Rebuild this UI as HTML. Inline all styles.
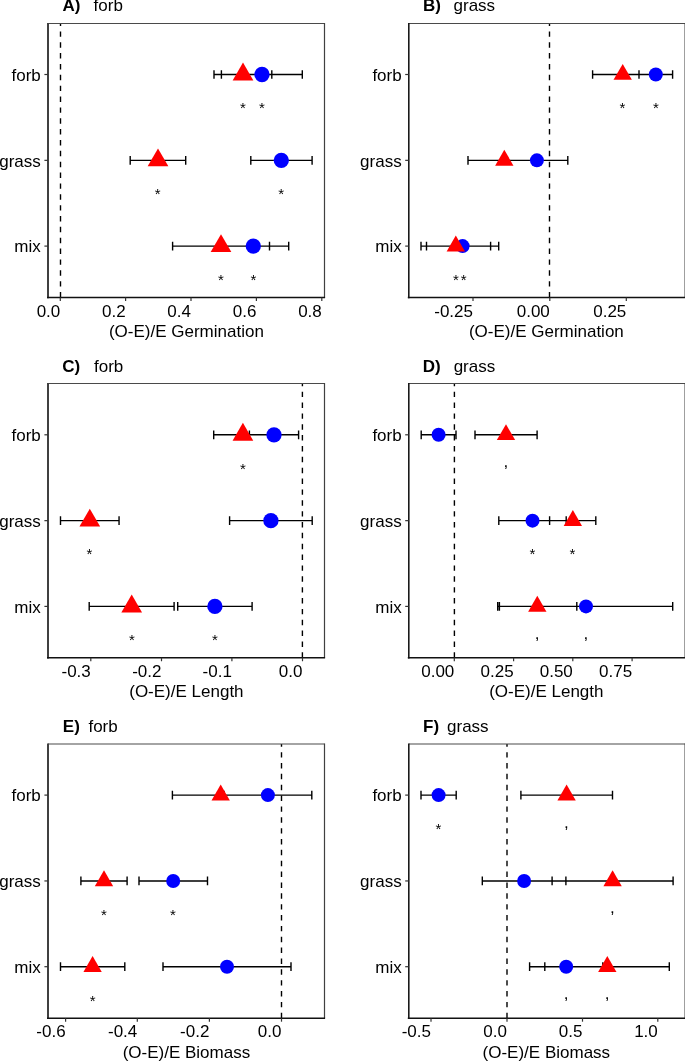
<!DOCTYPE html><html><head><meta charset="utf-8"><style>html,body{margin:0;padding:0;background:#fff;}svg{display:block;will-change:transform;}text{font-family:"Liberation Sans",sans-serif;}</style></head><body>
<svg width="685" height="1061" viewBox="0 0 685 1061">
<rect x="0" y="0" width="685" height="1061" fill="#fff"/>
<text x="62.4" y="11.4" font-size="17" font-weight="bold">A)</text>
<text x="93.55" y="11.4" font-size="17">forb</text>
<line x1="60.5" y1="297.45" x2="60.5" y2="23.5" stroke="#000" stroke-width="1.4" stroke-dasharray="5.43 5.43"/>
<path d="M214 74.5H302.3M221.4 70.15V78.85M302.3 70.15V78.85M214 70.15V78.85M271.8 70.15V78.85" stroke="#000" stroke-width="1.4" fill="none"/>
<path d="M130.2 160.35H185.7M250.8 160.35H312.1M250.8 156V164.7M312.1 156V164.7M130.2 156V164.7M185.7 156V164.7" stroke="#000" stroke-width="1.4" fill="none"/>
<path d="M172.6 246.1H288.7M217.9 241.75V250.45M288.7 241.75V250.45M172.6 241.75V250.45M269.5 241.75V250.45" stroke="#000" stroke-width="1.4" fill="none"/>
<circle cx="262" cy="74.5" r="7.65" fill="#0000ff"/>
<circle cx="281.3" cy="160.35" r="7.65" fill="#0000ff"/>
<circle cx="253.3" cy="246.1" r="7.65" fill="#0000ff"/>
<path d="M243 62.55L253.35 80.47L232.65 80.47Z" fill="#ff0000"/>
<path d="M158 148.4L168.35 166.32L147.65 166.32Z" fill="#ff0000"/>
<path d="M221 234.15L231.35 252.07L210.65 252.07Z" fill="#ff0000"/>
<text x="240" y="113.3" font-size="15">*</text>
<text x="259.1" y="113.3" font-size="15">*</text>
<text x="154.8" y="199.15" font-size="15">*</text>
<text x="278.3" y="199.15" font-size="15">*</text>
<text x="218" y="284.9" font-size="15">*</text>
<text x="250.4" y="284.9" font-size="15">*</text>
<path d="M48 23.5H324.5" stroke="#4a4a4a" stroke-width="1.15" fill="none"/>
<path d="M324.5 22.95V297.45" stroke="#404040" stroke-width="1.2" fill="none"/>
<path d="M48 22.95V298.15" stroke="#404040" stroke-width="2.0" fill="none"/>
<path d="M47 297.45H325.1" stroke="#111" stroke-width="1.4" fill="none"/>
<line x1="44.4" y1="74.5" x2="48" y2="74.5" stroke="#333" stroke-width="1.2"/>
<text x="40.8" y="80.7" font-size="17" text-anchor="end">forb</text>
<line x1="44.4" y1="160.35" x2="48" y2="160.35" stroke="#333" stroke-width="1.2"/>
<text x="40.8" y="166.55" font-size="17" text-anchor="end">grass</text>
<line x1="44.4" y1="246.1" x2="48" y2="246.1" stroke="#333" stroke-width="1.2"/>
<text x="40.8" y="252.3" font-size="17" text-anchor="end">mix</text>
<line x1="60.3" y1="297.45" x2="60.3" y2="300.95" stroke="#333" stroke-width="1.2"/>
<text x="60.3" y="316.85" font-size="17" text-anchor="end">0.0</text>
<line x1="125.6" y1="297.45" x2="125.6" y2="300.95" stroke="#333" stroke-width="1.2"/>
<text x="125.6" y="316.85" font-size="17" text-anchor="end">0.2</text>
<line x1="191" y1="297.45" x2="191" y2="300.95" stroke="#333" stroke-width="1.2"/>
<text x="191" y="316.85" font-size="17" text-anchor="end">0.4</text>
<line x1="256.4" y1="297.45" x2="256.4" y2="300.95" stroke="#333" stroke-width="1.2"/>
<text x="256.4" y="316.85" font-size="17" text-anchor="end">0.6</text>
<line x1="321.8" y1="297.45" x2="321.8" y2="300.95" stroke="#333" stroke-width="1.2"/>
<text x="321.8" y="316.85" font-size="17" text-anchor="end">0.8</text>
<text x="186.4" y="337" font-size="17" text-anchor="middle">(O-E)/E Germination</text>
<text x="422.9" y="11.4" font-size="17" font-weight="bold">B)</text>
<text x="453.55" y="11.4" font-size="17">grass</text>
<line x1="549.5" y1="297.45" x2="549.5" y2="23.5" stroke="#000" stroke-width="1.4" stroke-dasharray="5.43 5.43"/>
<path d="M592.6 74.5H672.6M639 70.15V78.85M672.6 70.15V78.85M592.6 70.15V78.85M652.8 70.15V78.85" stroke="#000" stroke-width="1.4" fill="none"/>
<path d="M468 160.35H567.8M506 156V164.7M567.8 156V164.7M468 156V164.7M540.6 156V164.7" stroke="#000" stroke-width="1.4" fill="none"/>
<path d="M421 246.1H498.7M426.5 241.75V250.45M498.7 241.75V250.45M421 241.75V250.45M490.6 241.75V250.45" stroke="#000" stroke-width="1.4" fill="none"/>
<circle cx="655.8" cy="74.5" r="7.0" fill="#0000ff"/>
<circle cx="536.9" cy="160.35" r="7.0" fill="#0000ff"/>
<circle cx="462.6" cy="246.1" r="7.0" fill="#0000ff"/>
<path d="M622.7 63.9L631.88 79.8L613.52 79.8Z" fill="#ff0000"/>
<path d="M504.3 149.75L513.48 165.65L495.12 165.65Z" fill="#ff0000"/>
<path d="M455.8 235.5L464.98 251.4L446.62 251.4Z" fill="#ff0000"/>
<text x="619.6" y="113.3" font-size="15">*</text>
<text x="653.1" y="113.3" font-size="15">*</text>
<text x="452.9" y="284.9" font-size="15">*</text>
<text x="460.8" y="284.9" font-size="15">*</text>
<path d="M408.8 23.5H685.1" stroke="#4a4a4a" stroke-width="1.15" fill="none"/>
<path d="M685.1 22.95V297.45" stroke="#404040" stroke-width="1.2" fill="none"/>
<path d="M408.8 22.95V298.15" stroke="#1a1a1a" stroke-width="1.6" fill="none"/>
<path d="M407.8 297.45H685.7" stroke="#111" stroke-width="1.4" fill="none"/>
<line x1="405.2" y1="74.5" x2="408.8" y2="74.5" stroke="#333" stroke-width="1.2"/>
<text x="401.7" y="80.7" font-size="17" text-anchor="end">forb</text>
<line x1="405.2" y1="160.35" x2="408.8" y2="160.35" stroke="#333" stroke-width="1.2"/>
<text x="401.7" y="166.55" font-size="17" text-anchor="end">grass</text>
<line x1="405.2" y1="246.1" x2="408.8" y2="246.1" stroke="#333" stroke-width="1.2"/>
<text x="401.7" y="252.3" font-size="17" text-anchor="end">mix</text>
<line x1="473" y1="297.45" x2="473" y2="300.95" stroke="#333" stroke-width="1.2"/>
<text x="473" y="316.85" font-size="17" text-anchor="end">-0.25</text>
<line x1="549.8" y1="297.45" x2="549.8" y2="300.95" stroke="#333" stroke-width="1.2"/>
<text x="549.8" y="316.85" font-size="17" text-anchor="end">0.00</text>
<line x1="626.3" y1="297.45" x2="626.3" y2="300.95" stroke="#333" stroke-width="1.2"/>
<text x="626.3" y="316.85" font-size="17" text-anchor="end">0.25</text>
<text x="546.35" y="337" font-size="17" text-anchor="middle">(O-E)/E Germination</text>
<text x="62.35" y="371.7" font-size="17" font-weight="bold">C)</text>
<text x="94" y="371.7" font-size="17">forb</text>
<line x1="302.4" y1="657.75" x2="302.4" y2="383.5" stroke="#000" stroke-width="1.4" stroke-dasharray="5.43 5.43"/>
<path d="M213.7 434.8H298.6M249.4 430.45V439.15M298.6 430.45V439.15M213.7 430.45V439.15M272.1 430.45V439.15" stroke="#000" stroke-width="1.4" fill="none"/>
<path d="M60.5 520.65H119.05M229.6 520.65H312.2M229.6 516.3V525M312.2 516.3V525M60.5 516.3V525M119.05 516.3V525" stroke="#000" stroke-width="1.4" fill="none"/>
<path d="M89.2 606.4H174.1M177.7 606.4H252.1M177.7 602.05V610.75M252.1 602.05V610.75M89.2 602.05V610.75M174.1 602.05V610.75" stroke="#000" stroke-width="1.4" fill="none"/>
<circle cx="274" cy="434.8" r="7.65" fill="#0000ff"/>
<circle cx="270.9" cy="520.65" r="7.65" fill="#0000ff"/>
<circle cx="214.9" cy="606.4" r="7.65" fill="#0000ff"/>
<path d="M242.9 422.85L253.25 440.78L232.55 440.78Z" fill="#ff0000"/>
<path d="M89.8 508.7L100.15 526.62L79.45 526.62Z" fill="#ff0000"/>
<path d="M131.7 594.45L142.05 612.38L121.35 612.38Z" fill="#ff0000"/>
<text x="240" y="473.6" font-size="15">*</text>
<text x="86.6" y="559.45" font-size="15">*</text>
<text x="128.9" y="645.2" font-size="15">*</text>
<text x="211.9" y="645.2" font-size="15">*</text>
<path d="M48 383.5H324.5" stroke="#4a4a4a" stroke-width="1.15" fill="none"/>
<path d="M324.5 382.95V657.75" stroke="#404040" stroke-width="1.2" fill="none"/>
<path d="M48 382.95V658.45" stroke="#404040" stroke-width="2.0" fill="none"/>
<path d="M47 657.75H325.1" stroke="#111" stroke-width="1.4" fill="none"/>
<line x1="44.4" y1="434.8" x2="48" y2="434.8" stroke="#333" stroke-width="1.2"/>
<text x="40.8" y="441" font-size="17" text-anchor="end">forb</text>
<line x1="44.4" y1="520.65" x2="48" y2="520.65" stroke="#333" stroke-width="1.2"/>
<text x="40.8" y="526.85" font-size="17" text-anchor="end">grass</text>
<line x1="44.4" y1="606.4" x2="48" y2="606.4" stroke="#333" stroke-width="1.2"/>
<text x="40.8" y="612.6" font-size="17" text-anchor="end">mix</text>
<line x1="90.8" y1="657.75" x2="90.8" y2="661.25" stroke="#333" stroke-width="1.2"/>
<text x="90.8" y="677.15" font-size="17" text-anchor="end">-0.3</text>
<line x1="161.5" y1="657.75" x2="161.5" y2="661.25" stroke="#333" stroke-width="1.2"/>
<text x="161.5" y="677.15" font-size="17" text-anchor="end">-0.2</text>
<line x1="231.9" y1="657.75" x2="231.9" y2="661.25" stroke="#333" stroke-width="1.2"/>
<text x="231.9" y="677.15" font-size="17" text-anchor="end">-0.1</text>
<line x1="302.5" y1="657.75" x2="302.5" y2="661.25" stroke="#333" stroke-width="1.2"/>
<text x="302.5" y="677.15" font-size="17" text-anchor="end">0.0</text>
<text x="186.4" y="697.3" font-size="17" text-anchor="middle">(O-E)/E Length</text>
<text x="422.8" y="371.7" font-size="17" font-weight="bold">D)</text>
<text x="453.65" y="371.7" font-size="17">grass</text>
<line x1="454.4" y1="657.75" x2="454.4" y2="383.5" stroke="#000" stroke-width="1.4" stroke-dasharray="5.43 5.43"/>
<path d="M421.2 434.8H456M475 434.8H537.1M421.2 430.45V439.15M456 430.45V439.15M475 430.45V439.15M537.1 430.45V439.15" stroke="#000" stroke-width="1.4" fill="none"/>
<path d="M498.8 520.65H595.8M498.8 516.3V525M566.2 516.3V525M549.6 516.3V525M595.8 516.3V525" stroke="#000" stroke-width="1.4" fill="none"/>
<path d="M497.7 606.4H672.7M499.4 602.05V610.75M672.7 602.05V610.75M497.7 602.05V610.75M576.8 602.05V610.75" stroke="#000" stroke-width="1.4" fill="none"/>
<circle cx="438.6" cy="434.8" r="7.0" fill="#0000ff"/>
<circle cx="532.5" cy="520.65" r="7.0" fill="#0000ff"/>
<circle cx="586" cy="606.4" r="7.0" fill="#0000ff"/>
<path d="M506 424.2L515.18 440.1L496.82 440.1Z" fill="#ff0000"/>
<path d="M572.85 510.05L582.03 525.95L563.67 525.95Z" fill="#ff0000"/>
<path d="M537.3 595.8L546.48 611.7L528.12 611.7Z" fill="#ff0000"/>
<text x="503.55" y="467.2" font-size="17">,</text>
<text x="529.5" y="559.45" font-size="15">*</text>
<text x="569.6" y="559.45" font-size="15">*</text>
<text x="534.85" y="638.8" font-size="17">,</text>
<text x="583.55" y="638.8" font-size="17">,</text>
<path d="M408.8 383.5H685.1" stroke="#4a4a4a" stroke-width="1.15" fill="none"/>
<path d="M685.1 382.95V657.75" stroke="#404040" stroke-width="1.2" fill="none"/>
<path d="M408.8 382.95V658.45" stroke="#1a1a1a" stroke-width="1.6" fill="none"/>
<path d="M407.8 657.75H685.7" stroke="#111" stroke-width="1.4" fill="none"/>
<line x1="405.2" y1="434.8" x2="408.8" y2="434.8" stroke="#333" stroke-width="1.2"/>
<text x="401.7" y="441" font-size="17" text-anchor="end">forb</text>
<line x1="405.2" y1="520.65" x2="408.8" y2="520.65" stroke="#333" stroke-width="1.2"/>
<text x="401.7" y="526.85" font-size="17" text-anchor="end">grass</text>
<line x1="405.2" y1="606.4" x2="408.8" y2="606.4" stroke="#333" stroke-width="1.2"/>
<text x="401.7" y="612.6" font-size="17" text-anchor="end">mix</text>
<line x1="454.3" y1="657.75" x2="454.3" y2="661.25" stroke="#333" stroke-width="1.2"/>
<text x="454.3" y="677.15" font-size="17" text-anchor="end">0.00</text>
<line x1="513.6" y1="657.75" x2="513.6" y2="661.25" stroke="#333" stroke-width="1.2"/>
<text x="513.6" y="677.15" font-size="17" text-anchor="end">0.25</text>
<line x1="572.8" y1="657.75" x2="572.8" y2="661.25" stroke="#333" stroke-width="1.2"/>
<text x="572.8" y="677.15" font-size="17" text-anchor="end">0.50</text>
<line x1="632.1" y1="657.75" x2="632.1" y2="661.25" stroke="#333" stroke-width="1.2"/>
<text x="632.1" y="677.15" font-size="17" text-anchor="end">0.75</text>
<text x="546.35" y="697.3" font-size="17" text-anchor="middle">(O-E)/E Length</text>
<text x="62.8" y="732" font-size="17" font-weight="bold">E)</text>
<text x="88.45" y="732" font-size="17">forb</text>
<line x1="281.5" y1="1018.2" x2="281.5" y2="744" stroke="#000" stroke-width="1.4" stroke-dasharray="5.43 5.43"/>
<path d="M172.4 795.1H311.8M224 790.75V799.45M311.8 790.75V799.45M172.4 790.75V799.45M269 790.75V799.45" stroke="#000" stroke-width="1.4" fill="none"/>
<path d="M80.9 880.95H127.1M139 880.95H207.5M139 876.6V885.3M207.5 876.6V885.3M80.9 876.6V885.3M127.1 876.6V885.3" stroke="#000" stroke-width="1.4" fill="none"/>
<path d="M60.5 966.7H124.8M163 966.7H291M163 962.35V971.05M291 962.35V971.05M60.5 962.35V971.05M124.8 962.35V971.05" stroke="#000" stroke-width="1.4" fill="none"/>
<circle cx="267.9" cy="795.1" r="7.0" fill="#0000ff"/>
<circle cx="173.2" cy="880.95" r="7.0" fill="#0000ff"/>
<circle cx="227" cy="966.7" r="7.0" fill="#0000ff"/>
<path d="M220.7 784.5L229.88 800.4L211.52 800.4Z" fill="#ff0000"/>
<path d="M104 870.35L113.18 886.25L94.82 886.25Z" fill="#ff0000"/>
<path d="M92.6 956.1L101.78 972L83.42 972Z" fill="#ff0000"/>
<text x="101.1" y="919.75" font-size="15">*</text>
<text x="170.1" y="919.75" font-size="15">*</text>
<text x="89.7" y="1005.5" font-size="15">*</text>
<path d="M48 744H324.5" stroke="#4a4a4a" stroke-width="1.15" fill="none"/>
<path d="M324.5 743.45V1018.2" stroke="#404040" stroke-width="1.2" fill="none"/>
<path d="M48 743.45V1018.9" stroke="#404040" stroke-width="2.0" fill="none"/>
<path d="M47 1018.2H325.1" stroke="#111" stroke-width="1.4" fill="none"/>
<line x1="44.4" y1="795.1" x2="48" y2="795.1" stroke="#333" stroke-width="1.2"/>
<text x="40.8" y="801.3" font-size="17" text-anchor="end">forb</text>
<line x1="44.4" y1="880.95" x2="48" y2="880.95" stroke="#333" stroke-width="1.2"/>
<text x="40.8" y="887.15" font-size="17" text-anchor="end">grass</text>
<line x1="44.4" y1="966.7" x2="48" y2="966.7" stroke="#333" stroke-width="1.2"/>
<text x="40.8" y="972.9" font-size="17" text-anchor="end">mix</text>
<line x1="65.6" y1="1018.2" x2="65.6" y2="1021.7" stroke="#333" stroke-width="1.2"/>
<text x="65.6" y="1037.45" font-size="17" text-anchor="end">-0.6</text>
<line x1="137.3" y1="1018.2" x2="137.3" y2="1021.7" stroke="#333" stroke-width="1.2"/>
<text x="137.3" y="1037.45" font-size="17" text-anchor="end">-0.4</text>
<line x1="209.4" y1="1018.2" x2="209.4" y2="1021.7" stroke="#333" stroke-width="1.2"/>
<text x="209.4" y="1037.45" font-size="17" text-anchor="end">-0.2</text>
<line x1="281.5" y1="1018.2" x2="281.5" y2="1021.7" stroke="#333" stroke-width="1.2"/>
<text x="281.5" y="1037.45" font-size="17" text-anchor="end">0.0</text>
<text x="186.4" y="1057.6" font-size="17" text-anchor="middle">(O-E)/E Biomass</text>
<text x="423.1" y="732" font-size="17" font-weight="bold">F)</text>
<text x="447.05" y="732" font-size="17">grass</text>
<line x1="507" y1="1018.2" x2="507" y2="744" stroke="#000" stroke-width="1.4" stroke-dasharray="5.43 5.43"/>
<path d="M421 795.1H456.2M520.9 795.1H612.5M421 790.75V799.45M456.2 790.75V799.45M520.9 790.75V799.45M612.5 790.75V799.45" stroke="#000" stroke-width="1.4" fill="none"/>
<path d="M482.3 880.95H673.1M482.3 876.6V885.3M565.9 876.6V885.3M552.1 876.6V885.3M673.1 876.6V885.3" stroke="#000" stroke-width="1.4" fill="none"/>
<path d="M529.6 966.7H669.3M529.6 962.35V971.05M602.8 962.35V971.05M544.8 962.35V971.05M669.3 962.35V971.05" stroke="#000" stroke-width="1.4" fill="none"/>
<circle cx="438.6" cy="795.1" r="7.0" fill="#0000ff"/>
<circle cx="524.1" cy="880.95" r="7.0" fill="#0000ff"/>
<circle cx="566.2" cy="966.7" r="7.0" fill="#0000ff"/>
<path d="M566.6 784.5L575.78 800.4L557.42 800.4Z" fill="#ff0000"/>
<path d="M612.6 870.35L621.78 886.25L603.42 886.25Z" fill="#ff0000"/>
<path d="M607.3 956.1L616.48 972L598.12 972Z" fill="#ff0000"/>
<text x="435.6" y="833.9" font-size="15">*</text>
<text x="563.95" y="827.5" font-size="17">,</text>
<text x="610.05" y="913.35" font-size="17">,</text>
<text x="563.75" y="999.1" font-size="17">,</text>
<text x="604.75" y="999.1" font-size="17">,</text>
<path d="M408.8 744H685.1" stroke="#4a4a4a" stroke-width="1.15" fill="none"/>
<path d="M685.1 743.45V1018.2" stroke="#404040" stroke-width="1.2" fill="none"/>
<path d="M408.8 743.45V1018.9" stroke="#1a1a1a" stroke-width="1.6" fill="none"/>
<path d="M407.8 1018.2H685.7" stroke="#111" stroke-width="1.4" fill="none"/>
<line x1="405.2" y1="795.1" x2="408.8" y2="795.1" stroke="#333" stroke-width="1.2"/>
<text x="401.7" y="801.3" font-size="17" text-anchor="end">forb</text>
<line x1="405.2" y1="880.95" x2="408.8" y2="880.95" stroke="#333" stroke-width="1.2"/>
<text x="401.7" y="887.15" font-size="17" text-anchor="end">grass</text>
<line x1="405.2" y1="966.7" x2="408.8" y2="966.7" stroke="#333" stroke-width="1.2"/>
<text x="401.7" y="972.9" font-size="17" text-anchor="end">mix</text>
<line x1="431" y1="1018.2" x2="431" y2="1021.7" stroke="#333" stroke-width="1.2"/>
<text x="431" y="1037.45" font-size="17" text-anchor="end">-0.5</text>
<line x1="507" y1="1018.2" x2="507" y2="1021.7" stroke="#333" stroke-width="1.2"/>
<text x="507" y="1037.45" font-size="17" text-anchor="end">0.0</text>
<line x1="582.5" y1="1018.2" x2="582.5" y2="1021.7" stroke="#333" stroke-width="1.2"/>
<text x="582.5" y="1037.45" font-size="17" text-anchor="end">0.5</text>
<line x1="657.8" y1="1018.2" x2="657.8" y2="1021.7" stroke="#333" stroke-width="1.2"/>
<text x="657.8" y="1037.45" font-size="17" text-anchor="end">1.0</text>
<text x="546.35" y="1057.6" font-size="17" text-anchor="middle">(O-E)/E Biomass</text>
</svg></body></html>
